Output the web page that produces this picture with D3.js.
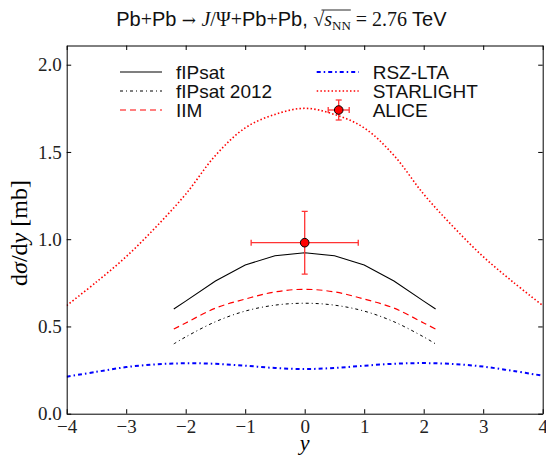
<!DOCTYPE html>
<html>
<head>
<meta charset="utf-8">
<script src="https://cdn.jsdelivr.net/npm/d3@7"></script>
<style>
  html, body { margin: 0; padding: 0; background: #fff; }
  svg { display: block; }
</style>
</head>
<body>
<div id="chart"></div>
<script>
// Pb+Pb -> J/Psi + Pb+Pb, dsigma/dy vs rapidity

var xTicks = [-4, -3, -2, -1, 0, 1, 2, 3, 4];
var yTicks = [0.0, 0.5, 1.0, 1.5, 2.0];

// model curves
var fipsatX = [-2.2, -2, -1.5, -1, -0.5, 0, 0.5, 1, 1.5, 2, 2.2];
var fipsatY = [0.600, 0.645, 0.760, 0.852, 0.905, 0.922, 0.905, 0.852, 0.760, 0.645, 0.600];
var fipsat2012Y = [0.400, 0.440, 0.527, 0.588, 0.622, 0.633, 0.622, 0.588, 0.527, 0.440, 0.400];
var iimY = [0.485, 0.520, 0.605, 0.657, 0.698, 0.713, 0.698, 0.657, 0.605, 0.520, 0.485];

var fullX = [-4, -3.5, -3, -2.5, -2, -1.5, -1, -0.5, 0, 0.5, 1, 1.5, 2, 2.5, 3, 3.5, 4];
var starlightY = [0.620, 0.755, 0.900, 1.070, 1.258, 1.480, 1.638, 1.715, 1.750, 1.715, 1.638, 1.480, 1.258, 1.070, 0.900, 0.755, 0.620];
var rszY = [0.212, 0.240, 0.267, 0.283, 0.289, 0.286, 0.275, 0.262, 0.256, 0.262, 0.275, 0.286, 0.290, 0.285, 0.270, 0.245, 0.218];

// ALICE measurement
var aliceX = [0];
var aliceY = [0.98];
var aliceXErr = [0.9];
var aliceYErr = [0.18];

var width = 546, height = 455;
var margin = { top: 45.5, right: 3.3, bottom: 41.3, left: 66.7 };

var SERIF = '"Liberation Serif", "DejaVu Serif", serif';
var SANS = '"Liberation Sans", Arial, sans-serif';

var svg = d3.select('#chart').append('svg')
    .attr('width', width)
    .attr('height', height);

var x = d3.scaleLinear().domain([-4, 4]).range([margin.left, width - margin.right]);
var y = d3.scaleLinear().domain([0, 2.11]).range([height - margin.bottom, margin.top]);

svg.append('clipPath').attr('id', 'plot-clip')
    .append('rect')
    .attr('x', margin.left).attr('y', margin.top)
    .attr('width', width - margin.left - margin.right)
    .attr('height', height - margin.top - margin.bottom);

var plot = svg.append('g').attr('clip-path', 'url(#plot-clip)');

function zipXY(xs, ys) {
    return xs.map(function(v, i) { return [v, ys[i]]; });
}

var series = [
    { name: 'fIPsat', xs: fipsatX, ys: fipsatY, color: '#000', width: 1.1, dash: null, curve: d3.curveLinear },
    { name: 'fIPsat 2012', xs: fipsatX, ys: fipsat2012Y, color: '#000', width: 1.0, dash: '3,3,1,3', curve: d3.curveCatmullRom },
    { name: 'IIM', xs: fipsatX, ys: iimY, color: '#f00', width: 1.2, dash: '6,4', curve: d3.curveCatmullRom },
    { name: 'RSZ-LTA', xs: fullX, ys: rszY, color: '#00f', width: 2.0, dash: '4,3,1.5,3', curve: d3.curveCatmullRom },
    { name: 'STARLIGHT', xs: fullX, ys: starlightY, color: '#f00', width: 1.6, dash: '1.5,2.2', curve: d3.curveCatmullRom }
];

series.forEach(function(s) {
    var line = d3.line()
        .x(function(d) { return x(d[0]); })
        .y(function(d) { return y(d[1]); })
        .curve(s.curve);
    plot.append('path')
        .datum(zipXY(s.xs, s.ys))
        .attr('d', line)
        .attr('fill', 'none')
        .attr('stroke', s.color)
        .attr('stroke-width', s.width)
        .attr('stroke-dasharray', s.dash);
});

// ALICE point with error bars
var errColor = '#f33';
aliceX.forEach(function(xv, i) {
    var g = plot.append('g');
    var cx = x(xv), cy = y(aliceY[i]);
    var x0 = x(xv - aliceXErr[i]), x1 = x(xv + aliceXErr[i]);
    var y0 = y(aliceY[i] - aliceYErr[i]), y1 = y(aliceY[i] + aliceYErr[i]);
    g.append('line').attr('x1', x0).attr('x2', x1).attr('y1', cy).attr('y2', cy);
    g.append('line').attr('x1', cx).attr('x2', cx).attr('y1', y0).attr('y2', y1);
    g.append('line').attr('x1', x0).attr('x2', x0).attr('y1', cy - 3).attr('y2', cy + 3);
    g.append('line').attr('x1', x1).attr('x2', x1).attr('y1', cy - 3).attr('y2', cy + 3);
    g.append('line').attr('x1', cx - 3).attr('x2', cx + 3).attr('y1', y0).attr('y2', y0);
    g.append('line').attr('x1', cx - 3).attr('x2', cx + 3).attr('y1', y1).attr('y2', y1);
    g.selectAll('line').attr('stroke', errColor).attr('stroke-width', 1.3);
    g.append('circle').attr('cx', cx).attr('cy', cy).attr('r', 4.3)
        .attr('fill', '#f00').attr('stroke', '#000').attr('stroke-width', 1);
});

// Axes: ticks inward on all four sides
var tickLen = 4.5;
function styleAxis(g) {
    g.select('.domain').attr('stroke', '#000').attr('stroke-width', 1);
    g.selectAll('.tick line').attr('stroke', '#000').attr('stroke-width', 1);
    g.selectAll('.tick text').attr('font-family', SERIF).attr('font-size', 19).attr('fill', '#222');
}
function fmtNum(d) { return (d < 0 ? '\u2212' : '') + Math.abs(d); }

svg.append('g')
    .attr('transform', 'translate(0,' + (height - margin.bottom) + ')')
    .call(d3.axisBottom(x).tickValues(xTicks).tickSize(-tickLen).tickPadding(6).tickSizeOuter(0).tickFormat(fmtNum))
    .call(styleAxis);
svg.append('g')
    .attr('transform', 'translate(0,' + margin.top + ')')
    .call(d3.axisTop(x).tickValues(xTicks).tickSize(-tickLen).tickSizeOuter(0).tickFormat(''))
    .call(styleAxis);
svg.append('g')
    .attr('transform', 'translate(' + margin.left + ',0)')
    .call(d3.axisLeft(y).tickValues(yTicks).tickSize(-tickLen).tickPadding(5).tickSizeOuter(0).tickFormat(d3.format('.1f')))
    .call(styleAxis);
svg.append('g')
    .attr('transform', 'translate(' + (width - margin.right) + ',0)')
    .call(d3.axisRight(y).tickValues(yTicks).tickSize(-tickLen).tickSizeOuter(0).tickFormat(''))
    .call(styleAxis);

// Axis labels
svg.append('text')
    .attr('x', x(0)).attr('y', 450)
    .attr('text-anchor', 'middle')
    .attr('font-family', SERIF).attr('font-style', 'italic').attr('font-size', 22)
    .text('y');

var ylab = svg.append('text')
    .attr('transform', 'translate(27,233) rotate(-90)')
    .attr('text-anchor', 'middle')
    .attr('font-family', SERIF).attr('font-size', 24);
ylab.append('tspan').text('d');
ylab.append('tspan').attr('font-style', 'italic').text('\u03c3');
ylab.append('tspan').text('/d');
ylab.append('tspan').attr('font-style', 'italic').text('y');
ylab.append('tspan').text(' [mb]');

// Title built from pieces of mixed fonts
var ARROWF = '"DejaVu Serif", serif';
var titleParts = [
    { t: 'Pb', f: SANS }, { t: '+', f: SERIF }, { t: 'Pb', f: SANS },
    { t: ' \u2192 ', f: ARROWF, s: 17 }, { t: 'J', f: SERIF, i: true }, { t: '/\u03a8', f: SERIF },
    { t: '+', f: SERIF }, { t: 'Pb', f: SANS }, { t: '+', f: SERIF }, { t: 'Pb, ', f: SANS },
    { t: '\u221a', f: SERIF, root: true }, { t: 's', f: SERIF, i: true, under: true },
    { t: 'NN', f: SERIF, s: 13, dy: 4, under: true }, { t: ' = 2.76 ', f: SERIF }, { t: 'TeV', f: SANS }
];
var titleG = svg.append('g');
var cursor = 0, rootStart = null, rootEnd = null, rootTop = 10;
var titleSize = 20;
titleParts.forEach(function(p) {
    var t = titleG.append('text')
        .attr('x', cursor).attr('y', 26 + (p.dy || 0))
        .attr('font-family', p.f)
        .attr('font-size', p.s || titleSize)
        .attr('font-style', p.i ? 'italic' : 'normal')
        .attr('fill', '#111')
        .style('white-space', 'pre')
        .text(p.t);
    var w = t.node().getComputedTextLength();
    if (p.root) { rootStart = cursor + w * 0.75; }
    if (p.under) rootEnd = cursor + w;
    cursor += w;
});
titleG.append('line')
    .attr('x1', rootStart).attr('x2', rootEnd)
    .attr('y1', rootTop).attr('y2', rootTop)
    .attr('stroke', '#111').attr('stroke-width', 0.9);
var tb = titleG.node().getBBox();
titleG.attr('transform', 'translate(' + (281.7 - (tb.x + tb.width / 2)) + ',0)');

// Legend
var legendRows = [
    { s: series[0], col: 0, row: 0 },
    { s: series[1], col: 0, row: 1 },
    { s: series[2], col: 0, row: 2 },
    { s: series[3], col: 1, row: 0 },
    { s: series[4], col: 1, row: 1 },
    { s: { name: 'ALICE', marker: true }, col: 1, row: 2 }
];
var colX = [120, 316.7];
var legend = svg.append('g');
legendRows.forEach(function(r) {
    var bx = colX[r.col];
    var by = 79 + r.row * 19;
    var hy = by - 7;
    if (r.s.marker) {
        var cx = bx + 22;
        var g = legend.append('g');
        g.append('line').attr('x1', cx - 10.5).attr('x2', cx + 10.5).attr('y1', hy).attr('y2', hy);
        g.append('line').attr('x1', cx).attr('x2', cx).attr('y1', hy - 10).attr('y2', hy + 10);
        g.append('line').attr('x1', cx - 10.5).attr('x2', cx - 10.5).attr('y1', hy - 3).attr('y2', hy + 3);
        g.append('line').attr('x1', cx + 10.5).attr('x2', cx + 10.5).attr('y1', hy - 3).attr('y2', hy + 3);
        g.append('line').attr('x1', cx - 3).attr('x2', cx + 3).attr('y1', hy - 10).attr('y2', hy - 10);
        g.append('line').attr('x1', cx - 3).attr('x2', cx + 3).attr('y1', hy + 10).attr('y2', hy + 10);
        g.selectAll('line').attr('stroke', errColor).attr('stroke-width', 1.3);
        g.append('circle').attr('cx', cx).attr('cy', hy).attr('r', 4.3)
            .attr('fill', '#f00').attr('stroke', '#000').attr('stroke-width', 1);
    } else {
        legend.append('line')
            .attr('x1', bx).attr('x2', bx + 42)
            .attr('y1', hy).attr('y2', hy)
            .attr('stroke', r.s.color)
            .attr('stroke-width', r.s.width)
            .attr('stroke-dasharray', r.s.dash);
    }
    legend.append('text')
        .attr('x', bx + 56).attr('y', by)
        .attr('font-family', SANS).attr('font-size', 19)
        .attr('fill', '#111')
        .text(r.s.name);
});
</script>
</body>
</html>
